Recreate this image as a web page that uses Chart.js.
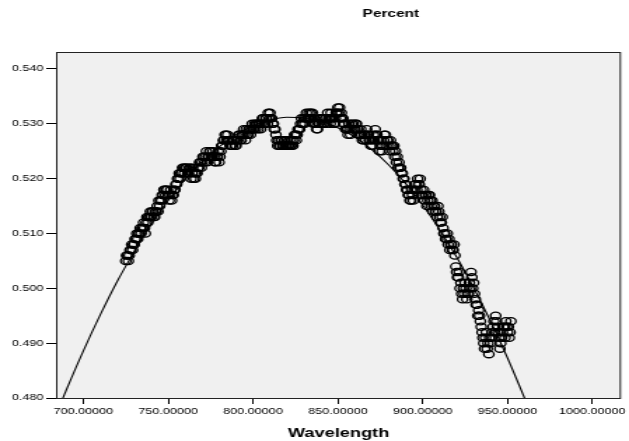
<!DOCTYPE html>
<html>
<head>
<meta charset="utf-8">
<script src="https://cdn.jsdelivr.net/npm/chart.js@4/dist/chart.umd.min.js"></script>
<style>
  html, body { margin: 0; padding: 0; background: #ffffff; overflow: hidden; }
  #wrap { width: 449px; height: 441px; transform: scaleX(1.40089); transform-origin: 0 0; }
  canvas { display: block; }
</style>
</head>
<body>
<div id="wrap"><canvas id="c" width="449" height="441"></canvas></div>
<script>
// ---- Data ----
const chartTitle = "Percent";
const xAxisTitle = "Wavelength";

const xTickValues = [700, 750, 800, 850, 900, 950, 1000];
const yTickValues = [0.480, 0.490, 0.500, 0.510, 0.520, 0.530, 0.540];

const wavelengthA = [725,726,727,728,729,730,731,732,733,734,735,736,737,738,739,740,741,742,743,744,745,746,747,748,749,750,751,752,753,754,755,756,757,758,759,760,761,762,763,764,765,766,767,768,769,770,771,772,773,774,775,776,777,778,779,780,781,782,783,784,785,786,787,788,789,790,791,792,793,794,795,796,797,798,799,800,801,802,803,804,805,806,807,808,809,810,811,812,813,814,815,816,817,818,819,820,821,822,823,824,825,826,827,828,829,830,831,832,833,834,835,836,837,838,839,840,841,842,843,844,845,846,847,848,849,850,851,852,853,854,855,856,857,858,859,860,861,862,863,864,865,866,867,868,869,870,871,872,873,874,875,876,877,878,879,880,881,882,883,884,885,886,887,888,889,890,891,892,893,894,895,896,897,898,899,900,901,902,903,904,905,906,907,908,909,910,911,912,913,914,915,916,917,918,919,920,921,922,923,924,925,926,927,928,929,930,931,932,933,934,935,936,937,938,939,940,941,942,943,944,945,946,947,948,949,950,951,952];
const percentA = [
0.505,0.506,0.506,0.507,0.507,0.508,0.509,0.509,0.510,0.510,
0.511,0.511,0.512,0.512,0.513,0.513,0.514,0.513,0.514,0.514,
0.515,0.516,0.517,0.518,0.518,0.517,0.517,0.516,0.517,0.518,
0.519,0.520,0.520,0.521,0.522,0.522,0.522,0.521,0.522,0.521,
0.520,0.520,0.521,0.522,0.523,0.523,0.524,0.524,0.523,0.524,
0.525,0.524,0.524,0.523,0.524,0.523,0.525,0.526,0.527,0.528,
0.528,0.527,0.526,0.526,0.527,0.526,0.527,0.528,0.527,0.528,
0.528,0.529,0.528,0.529,0.529,0.529,0.530,0.530,0.529,0.530,
0.530,0.531,0.530,0.531,0.532,0.532,0.531,0.530,0.529,0.527,
0.527,0.526,0.527,0.526,0.526,0.527,0.526,0.526,0.527,0.527,
0.528,0.528,0.529,0.530,0.530,0.531,0.531,0.531,0.532,0.532,
0.532,0.531,0.530,0.529,0.530,0.531,0.531,0.530,0.531,0.532,
0.531,0.532,0.531,0.530,0.532,0.533,0.533,0.532,0.531,0.530,
0.529,0.528,0.529,0.530,0.530,0.529,0.530,0.529,0.528,0.528,
0.527,0.528,0.529,0.528,0.527,0.526,0.528,0.529,0.528,0.527,
0.526,0.525,0.527,0.528,0.527,0.526,0.527,0.526,0.526,0.525,
0.524,0.523,0.522,0.521,0.520,0.519,0.518,0.517,0.516,0.517,
0.518,0.519,0.520,0.519,0.518,0.517,0.516,0.517,0.516,0.517,
0.515,0.514,0.515,0.514,0.515,0.513,0.512,0.511,0.510,0.509,
0.508,0.507,0.508,0.507,0.506,0.503,0.502,0.500,0.499,0.500,
0.501,0.498,0.499,0.500,0.502,0.501,0.498,0.497,0.496,0.494,
0.492,0.490,0.491,0.489,0.488,0.490,0.492,0.494,0.495,0.493,
0.491,0.490,0.492,0.493,0.494,0.492,0.491,0.494];

const wavelengthB = [725.5,726.5,727.5,728.5,729.5,730.5,731.5,732.5,733.5,734.5,735.5,736.5,737.5,738.5,739.5,740.5,741.5,742.5,743.5,744.5,745.5,746.5,747.5,748.5,749.5,750.5,751.5,752.5,753.5,754.5,755.5,756.5,757.5,758.5,759.5,760.5,761.5,762.5,763.5,764.5,765.5,766.5,767.5,768.5,769.5,770.5,771.5,772.5,773.5,774.5,775.5,776.5,777.5,778.5,779.5,780.5,781.5,782.5,783.5,784.5,785.5,786.5,787.5,788.5,789.5,790.5,791.5,792.5,793.5,794.5,795.5,796.5,797.5,798.5,799.5,800.5,801.5,802.5,803.5,804.5,805.5,806.5,807.5,808.5,809.5,810.5,811.5,812.5,813.5,814.5,815.5,816.5,817.5,818.5,819.5,820.5,821.5,822.5,823.5,824.5,825.5,826.5,827.5,828.5,829.5,830.5,831.5,832.5,833.5,834.5,835.5,836.5,837.5,838.5,839.5,840.5,841.5,842.5,843.5,844.5,845.5,846.5,847.5,848.5,849.5,850.5,851.5,852.5,853.5,854.5,855.5,856.5,857.5,858.5,859.5,860.5,861.5,862.5,863.5,864.5,865.5,866.5,867.5,868.5,869.5,870.5,871.5,872.5,873.5,874.5,875.5,876.5,877.5,878.5,879.5,880.5,881.5,882.5,883.5,884.5,885.5,886.5,887.5,888.5,889.5,890.5,891.5,892.5,893.5,894.5,895.5,896.5,897.5,898.5,899.5,900.5,901.5,902.5,903.5,904.5,905.5,906.5,907.5,908.5,909.5,910.5,911.5,912.5,913.5,914.5,915.5,916.5,917.5,918.5,919.5,920.5,921.5,922.5,923.5,924.5,925.5,926.5,927.5,928.5,929.5,930.5,931.5,932.5,933.5,934.5,935.5,936.5,937.5,938.5,939.5,940.5,941.5,942.5,943.5,944.5,945.5,946.5,947.5,948.5,949.5,950.5,951.5];
const percentB = [
0.506,0.505,0.507,0.508,0.508,0.509,0.510,0.510,0.511,0.511,
0.512,0.510,0.513,0.513,0.514,0.514,0.513,0.514,0.515,0.516,
0.516,0.517,0.518,0.517,0.518,0.516,0.518,0.517,0.518,0.519,
0.520,0.521,0.521,0.522,0.521,0.522,0.521,0.522,0.520,0.522,
0.521,0.521,0.522,0.523,0.522,0.524,0.523,0.525,0.524,0.525,
0.524,0.525,0.523,0.524,0.525,0.524,0.526,0.527,0.528,0.527,
0.527,0.526,0.527,0.527,0.526,0.527,0.528,0.527,0.528,0.529,
0.527,0.528,0.529,0.528,0.530,0.529,0.529,0.530,0.530,0.529,
0.531,0.530,0.531,0.530,0.531,0.531,0.530,0.529,0.528,0.526,
0.526,0.527,0.526,0.527,0.526,0.526,0.527,0.526,0.526,0.528,
0.527,0.529,0.529,0.531,0.530,0.530,0.532,0.531,0.531,0.531,
0.530,0.530,0.529,0.530,0.531,0.530,0.530,0.531,0.530,0.531,
0.530,0.531,0.530,0.531,0.532,0.532,0.531,0.531,0.530,0.529,
0.529,0.530,0.528,0.529,0.529,0.530,0.529,0.528,0.529,0.527,
0.528,0.527,0.528,0.527,0.526,0.527,0.527,0.528,0.527,0.525,
0.527,0.526,0.528,0.526,0.527,0.525,0.526,0.525,0.524,0.523,
0.522,0.522,0.521,0.520,0.519,0.518,0.517,0.516,0.518,0.516,
0.519,0.518,0.519,0.520,0.517,0.518,0.517,0.515,0.517,0.516,
0.516,0.515,0.514,0.513,0.514,0.512,0.513,0.510,0.509,0.510,
0.509,0.508,0.507,0.508,0.504,0.502,0.503,0.501,0.498,0.499,
0.500,0.499,0.501,0.503,0.500,0.499,0.497,0.495,0.495,0.493,
0.491,0.489,0.492,0.490,0.491,0.491,0.493,0.492,0.494,0.492,
0.489,0.491,0.493,0.491,0.493,0.493,0.492];

// Fitted (quadratic) curve
const fitWavelength = [685,688,690,700,710,720,730,740,750,760,770,780,790,800,810,820,830,840,850,860,870,880,890,900,910,920,930,940,950,960,963];
const fitPercent    = [0.4777,0.4800,0.4815,0.4886,0.4952,0.5013,0.5067,0.5117,0.5160,0.5199,0.5231,0.5258,0.5280,0.5296,0.5307,0.5312,0.5311,0.5305,0.5293,0.5276,0.5253,0.5225,0.5191,0.5152,0.5107,0.5057,0.5001,0.4940,0.4873,0.4800,0.4777];

// ---- Build chart ----
const pts = [];
wavelengthA.forEach((w, i) => pts.push({x: w, y: percentA[i]}));
wavelengthB.forEach((w, i) => pts.push({x: w, y: percentB[i]}));
const fitPts = fitWavelength.map((w, i) => ({x: w, y: fitPercent[i]}));

const FONT = "Arial, 'Liberation Sans', sans-serif";

const framePlugin = {
  id: 'frame',
  beforeDraw(chart) {
    const {ctx, chartArea: a} = chart;
    ctx.save();
    ctx.fillStyle = '#ffffff';
    ctx.fillRect(0, 0, chart.width, chart.height);
    ctx.fillStyle = '#f0f0f0';
    ctx.fillRect(a.left, a.top, a.right - a.left, a.bottom - a.top);
    ctx.restore();
  },
  afterDraw(chart) {
    const {ctx, chartArea: a} = chart;
    ctx.save();
    ctx.strokeStyle = '#222222';
    ctx.lineWidth = 1;
    ctx.strokeRect(a.left + 0.5, a.top + 0.5, a.right - a.left - 1, a.bottom - a.top);
    ctx.fillStyle = '#000000';
    ctx.font = "bold 11px " + FONT;
    ctx.textAlign = 'center';
    ctx.textBaseline = 'middle';
    ctx.fillText(chartTitle, 279, 14);
    ctx.restore();
  }
};

new Chart(document.getElementById('c'), {
  type: 'scatter',
  data: {
    datasets: [
      {
        type: 'line',
        data: fitPts,
        borderColor: '#000000',
        borderWidth: 1.1,
        pointRadius: 0,
        fill: false,
        tension: 0.4,
        cubicInterpolationMode: 'monotone'
      },
      {
        data: pts,
        pointStyle: 'circle',
        pointRadius: 3.6,
        pointBorderWidth: 1.3,
        pointBorderColor: '#000000',
        pointBackgroundColor: 'rgba(255,255,255,0)'
      }
    ]
  },
  options: {
    responsive: false,
    animation: false,
    devicePixelRatio: 1,
    layout: { padding: { top: 52, right: 5.7, left: 0, bottom: 0 } },
    plugins: { legend: { display: false }, tooltip: { enabled: false }, title: { display: false } },
    scales: {
      x: {
        type: 'linear',
        min: 683.9,
        max: 1016.9,
        afterBuildTicks(scale) { scale.ticks = xTickValues.map(v => ({value: v})); },
        afterFit(scale) { scale.height = 43; },
        grid: { drawOnChartArea: false, drawTicks: true, tickLength: 6, tickColor: '#000000', color: '#000000' },
        border: { display: false },
        ticks: {
          color: '#000000',
          font: { family: FONT, size: 9 },
          padding: 2,
          maxRotation: 0,
          autoSkip: false,
          callback: v => Number(v).toFixed(5)
        },
        title: {
          display: true,
          text: xAxisTitle,
          color: '#000000',
          font: { family: FONT, size: 13, weight: 'bold' },
          padding: { top: 0, bottom: 0 }
        }
      },
      y: {
        type: 'linear',
        min: 0.480,
        max: 0.5431,
        afterBuildTicks(scale) { scale.ticks = yTickValues.map(v => ({value: v})); },
        afterFit(scale) { scale.width = 40; },
        grid: { drawOnChartArea: false, drawTicks: true, tickLength: 7, tickColor: '#000000', color: '#000000' },
        border: { display: false },
        ticks: {
          color: '#000000',
          font: { family: FONT, size: 9 },
          padding: 2,
          autoSkip: false,
          callback: v => Number(v).toFixed(3)
        }
      }
    }
  },
  plugins: [framePlugin]
});
</script>
</body>
</html>
